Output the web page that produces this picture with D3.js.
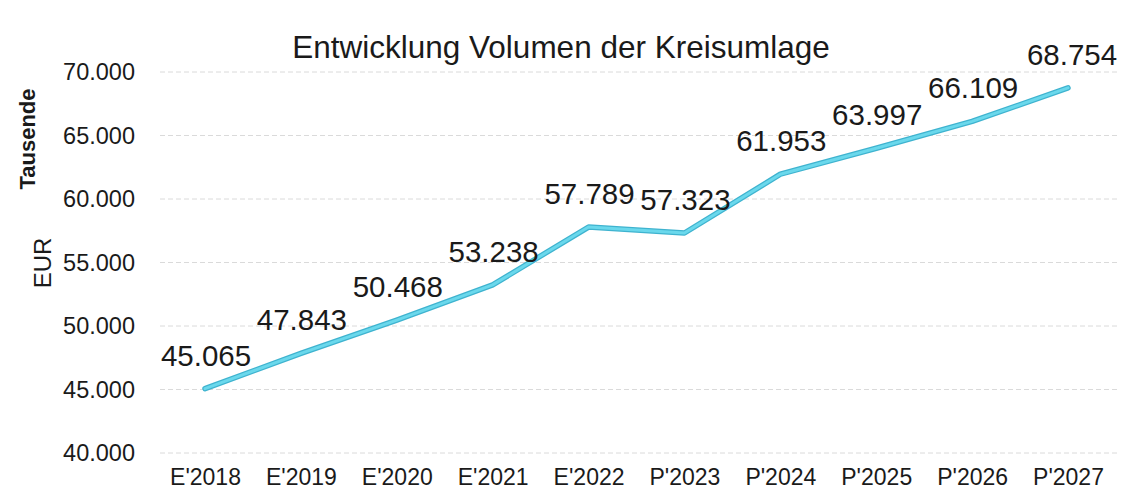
<!DOCTYPE html>
<html>
<head>
<meta charset="utf-8">
<script src="https://cdn.jsdelivr.net/npm/d3@7"></script>
<style>
  body { margin: 0; background: #fff; }
  svg { font-family: "Liberation Sans", Arial, sans-serif; }
</style>
</head>
<body>
<div id="chart"></div>
<script>
'use strict';

const categories = ["E'2018", "E'2019", "E'2020", "E'2021", "E'2022", "P'2023", "P'2024", "P'2025", "P'2026", "P'2027"];
const values = [45065, 47843, 50468, 53238, 57789, 57323, 61953, 63997, 66109, 68754];
const yTicks = [40000, 45000, 50000, 55000, 60000, 65000, 70000];
const title = 'Entwicklung Volumen der Kreisumlage';

const width = 1140, height = 492;
const fmt = d3.format(',.0f');
const de = (v) => fmt(v).replace(/,/g, '.');

const svg = d3.select('#chart').append('svg')
  .attr('width', width)
  .attr('height', height);

const x = d3.scalePoint()
  .domain(categories)
  .range([205, 1068]);

const y = d3.scaleLinear()
  .domain([40000, 70000])
  .range([453, 72]);

// grid
svg.append('g')
  .selectAll('line')
  .data(yTicks)
  .enter().append('line')
    .attr('x1', 160)
    .attr('x2', 1120)
    .attr('y1', (d) => y(d))
    .attr('y2', (d) => y(d))
    .attr('stroke', '#dadada')
    .attr('stroke-width', 1)
    .attr('stroke-dasharray', '5,3');

// y axis
const yAxis = svg.append('g')
  .attr('transform', 'translate(141,0)')
  .call(d3.axisLeft(y).tickValues(yTicks).tickFormat(de).tickSize(0).tickPadding(6));
yAxis.select('.domain').remove();
yAxis.selectAll('text')
  .attr('font-size', 23.5)
  .attr('fill', '#1a1a1a')
  .attr('font-family', '"Liberation Sans", Arial, sans-serif');

// x axis
const xAxis = svg.append('g')
  .attr('transform', 'translate(0,467)')
  .call(d3.axisBottom(x).tickSize(0).tickPadding(2));
xAxis.select('.domain').remove();
xAxis.selectAll('text')
  .attr('font-size', 23)
  .attr('fill', '#1a1a1a')
  .attr('font-family', '"Liberation Sans", Arial, sans-serif');

// line
const line = d3.line()
  .x((d, i) => x(categories[i]))
  .y((d) => y(d));

svg.append('path')
  .datum(values)
  .attr('fill', 'none')
  .attr('stroke', '#3fb3cf')
  .attr('stroke-width', 5.5)
  .attr('stroke-linejoin', 'round')
  .attr('stroke-linecap', 'round')
  .attr('d', line);

svg.append('path')
  .datum(values)
  .attr('fill', 'none')
  .attr('stroke', '#6ad8ec')
  .attr('stroke-width', 3)
  .attr('stroke-linejoin', 'round')
  .attr('stroke-linecap', 'round')
  .attr('d', line);

// data labels
svg.append('g')
  .selectAll('text')
  .data(values)
  .enter().append('text')
    .attr('x', (d, i) => x(categories[i]) + (i === 9 ? 4 : 1))
    .attr('y', (d) => y(d) - 23)
    .attr('text-anchor', 'middle')
    .attr('font-size', 29.5)
    .attr('fill', '#1a1a1a')
    .text(de);

// title
svg.append('text')
  .attr('x', 561)
  .attr('y', 58)
  .attr('text-anchor', 'middle')
  .attr('font-size', 31.5)
  .attr('fill', '#1a1a1a')
  .text(title);

// axis titles
svg.append('text')
  .attr('transform', 'translate(35,139) rotate(-90)')
  .attr('text-anchor', 'middle')
  .attr('font-size', 22)
  .attr('font-weight', 'bold')
  .attr('fill', '#1a1a1a')
  .text('Tausende');

svg.append('text')
  .attr('transform', 'translate(51,263) rotate(-90)')
  .attr('text-anchor', 'middle')
  .attr('font-size', 24)
  .attr('fill', '#1a1a1a')
  .text('EUR');
</script>
</body>
</html>
